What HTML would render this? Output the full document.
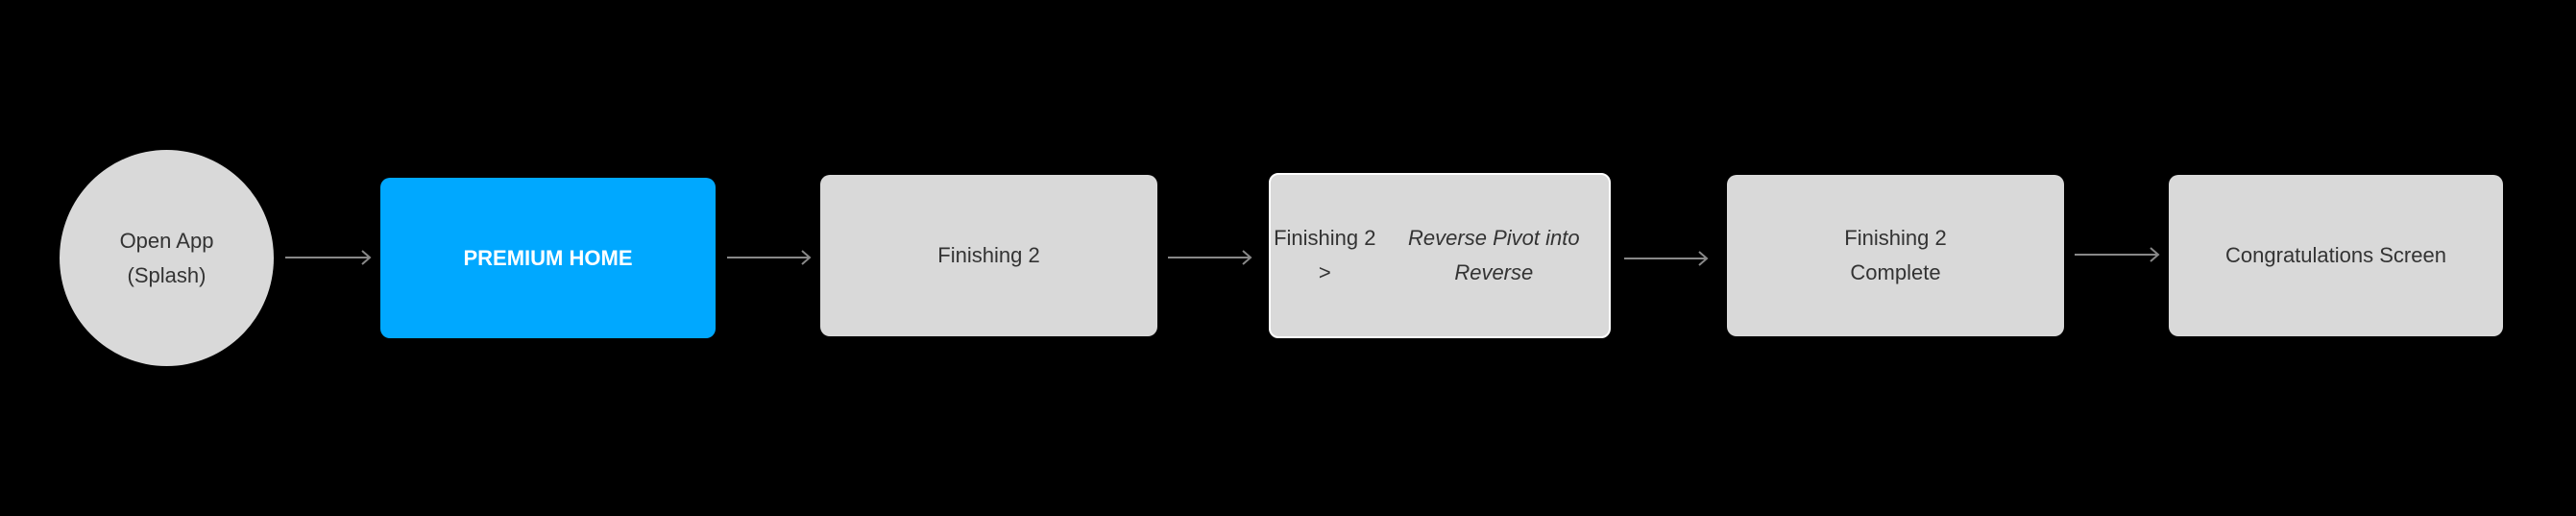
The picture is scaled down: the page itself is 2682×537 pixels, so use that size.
<!DOCTYPE html>
<html><head><meta charset="utf-8"><style>
html,body{margin:0;padding:0;background:#000;}
body{width:2682px;height:537px;position:relative;overflow:hidden;font-family:"Liberation Sans",sans-serif;}
.n{position:absolute;background:#d9d9d9;border-radius:10px;display:flex;align-items:center;justify-content:center;text-align:center;color:#333;font-size:22px;line-height:36px;box-sizing:border-box;}
svg{position:absolute;left:0;top:0;}
</style></head><body>
<div class="n" style="left:62px;top:156px;width:223px;height:225px;border-radius:50%;">Open App<br>(Splash)</div>
<div class="n" style="left:396px;top:185px;width:349px;height:167px;background:#00a8ff;color:#fff;font-weight:bold;">PREMIUM HOME</div>
<div class="n" style="left:854px;top:182px;width:351px;height:168px;">Finishing 2</div>
<div class="n" style="left:1321px;top:180px;width:356px;height:172px;border:2px solid #fff;">Finishing 2 &gt;<br><i>Reverse Pivot into Reverse</i></div>
<div class="n" style="left:1798px;top:182px;width:351px;height:168px;">Finishing 2<br>Complete</div>
<div class="n" style="left:2258px;top:182px;width:348px;height:168px;">Congratulations Screen</div>
<svg width="2682" height="537">
<g stroke="#888" stroke-width="2" fill="none">
<path d="M297 268H385M377 261L385 268L377 275"/>
<path d="M757 268H843M835 261L843 268L835 275"/>
<path d="M1216 268H1302M1294 261L1302 268L1294 275"/>
<path d="M1691 269H1777M1769 262L1777 269L1769 276"/>
<path d="M2160 265H2247M2239 258L2247 265L2239 272"/>
</g></svg>
</body></html>
